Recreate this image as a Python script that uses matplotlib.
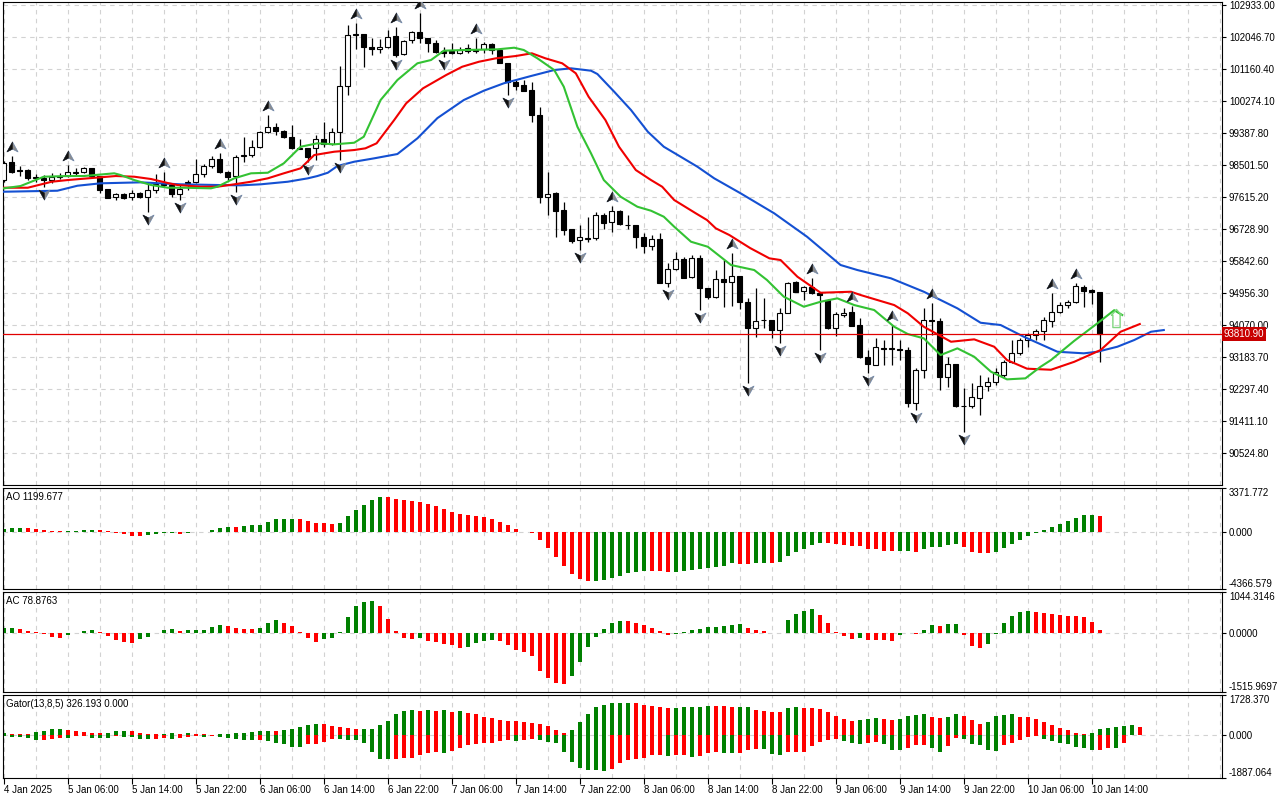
import numpy as np
import matplotlib.pyplot as plt
import matplotlib.transforms as mtransforms
from matplotlib.path import Path
from matplotlib.ticker import MultipleLocator

plt.rcParams['font.family'] = ['Liberation Sans', 'DejaVu Sans']
plt.rcParams['font.size'] = 7

# ---- candles (H1, first bar = 4 Jan 22:00) ----
opens = [98090, 98580, 98360, 98360, 98170, 98130, 98090, 98180, 98200, 98290,
         98300, 98410, 98200, 97840, 97610, 97700, 97610, 97730, 97620, 97810,
         98010, 97940, 97690, 97990, 98040, 98250, 98470, 98660, 98320, 98200,
         98740, 98780, 98990, 99410, 99550, 99450, 99270, 98950, 98960, 98960,
         99210, 99080, 99420, 100690, 102100, 102120, 101780, 101710, 101760, 102070,
         101570, 101960, 102180, 102010, 101870, 101660, 101660, 101600, 101670, 101660,
         101710, 101840, 101690, 101340, 100810, 100720, 100580, 99890, 97610, 97730,
         97260, 96720, 96420, 96460, 96470, 97120, 96930, 97240, 96850, 96840,
         96500, 96260, 96440, 95240, 95610, 95890, 95390, 95920, 95090, 94840,
         95340, 95270, 95440, 94710, 93980, 94200, 94210, 93930, 94410, 95270,
         95010, 95130, 94950, 94760, 93980, 94360, 94420, 94070, 93180, 92960,
         93440, 93410, 93400, 93380, 91920, 92820, 94200, 94190, 92640, 92990,
         91820, 91830, 92040, 92390, 92500, 92680, 93050, 93300, 93650, 93790,
         93910, 94190, 94440, 94620, 94720, 95130, 95040, 94980]
highs = [98600, 98750, 98480, 98380, 98250, 98220, 98270, 98290, 98500, 98430,
         98440, 98430, 98210, 97850, 97730, 97730, 97810, 97760, 98040, 98250,
         98320, 97960, 97950, 98090, 98660, 98520, 98750, 98830, 98330, 98780,
         99290, 99190, 99450, 99890, 99670, 99470, 99610, 99210, 98980, 99330,
         99680, 99520, 101250, 102380, 102430, 102140, 102010, 101980, 102250, 102310,
         101960, 102210, 102700, 102030, 101960, 101780, 101870, 101780, 101850, 102010,
         101920, 101870, 101700, 101340, 100860, 100860, 100810, 100120, 98320, 97750,
         97490, 96730, 96840, 97070, 97210, 97160, 97370, 97250, 97120, 96850,
         96610, 96560, 96610, 95780, 96100, 95950, 96000, 96010, 95100, 95590,
         95870, 96060, 95440, 94810, 95090, 94810, 94220, 94530, 95270, 95280,
         95150, 95360, 94990, 94800, 94440, 94530, 94600, 94250, 93380, 93700,
         93650, 94070, 93650, 93470, 92870, 94530, 94670, 94250, 93190, 93000,
         92320, 92450, 92680, 92640, 92890, 93100, 93650, 93700, 93840, 93950,
         94300, 94950, 94720, 94760, 95220, 95180, 95060, 94990]
lows = [98030, 98270, 98200, 98090, 98040, 97900, 98010, 98110, 98180, 98220,
        98280, 98190, 97720, 97580, 97530, 97560, 97530, 97600, 97210, 97730,
        97900, 97620, 97530, 97810, 97990, 98180, 98410, 98270, 98090, 97760,
        98590, 98710, 98960, 99380, 99330, 99250, 98950, 98940, 98590, 98650,
        99010, 99050, 98640, 100440, 101710, 101210, 101560, 101600, 101740, 101500,
        101550, 101870, 101870, 101640, 101610, 101500, 101580, 101570, 101600, 101600,
        101600, 101580, 101320, 100440, 100580, 100540, 99700, 97460, 97120, 96520,
        96560, 96330, 96150, 96380, 96420, 96720, 96650, 96840, 96720, 96190,
        96060, 96150, 95220, 95130, 95590, 95360, 95370, 94490, 94800, 94820,
        94580, 94600, 94500, 92450, 93750, 93980, 93700, 93560, 94400, 94980,
        94760, 94930, 93380, 93960, 93770, 94300, 94040, 93150, 92730, 92960,
        92970, 92960, 93100, 91810, 91720, 92590, 93790, 92270, 92360, 91810,
        91110, 91760, 91580, 92250, 92410, 92640, 93010, 93240, 93450, 93650,
        93650, 94020, 94390, 94530, 94690, 94560, 94650, 93050]
closes = [98560, 98320, 98330, 98150, 98150, 98090, 98180, 98200, 98300, 98300,
          98410, 98200, 97810, 97600, 97700, 97580, 97720, 97620, 97810, 97980,
          97950, 97690, 97850, 98020, 98250, 98470, 98660, 98320, 98180, 98730,
          98770, 98990, 99410, 99550, 99450, 99270, 98960, 98970, 98730, 99210,
          99080, 99420, 100690, 102100, 102130, 101780, 101710, 101760, 102060, 101550,
          101940, 102180, 102010, 101870, 101620, 101600, 101600, 101690, 101730, 101700,
          101840, 101690, 101340, 100810, 100690, 100560, 99890, 97620, 97700, 97240,
          96700, 96410, 96500, 96480, 97120, 96900, 97240, 96870, 96830, 96500,
          96260, 96440, 95240, 95610, 95890, 95380, 95920, 95090, 94840, 95340,
          95270, 95440, 94710, 93980, 94190, 94220, 93930, 94410, 95240, 94990,
          95110, 94950, 94910, 93980, 94370, 94410, 94050, 93180, 92990, 93450,
          93410, 93430, 93380, 91920, 92820, 94210, 94180, 92640, 92990, 91830,
          91830, 92070, 92390, 92500, 92780, 93050, 93300, 93650, 93790, 93910,
          94210, 94440, 94620, 94720, 95150, 95020, 94990, 93810.90]

fractal_up_bars = [1, 8, 20, 27, 33, 44, 49, 52, 59, 76, 91, 101, 106, 111, 116, 131, 134]
fractal_down_bars = [5, 18, 22, 29, 38, 42, 49, 55, 63, 72, 83, 87, 93, 97, 102, 108, 114, 120]

# ---- alligator lines (read at bar positions, shifted lines run past last bar) ----
jaw_x = [0, 6.7, 9.2, 12.1, 17.1, 22.1, 26.7, 29.6, 32.1, 35.5, 38, 39.2, 40.5, 41.7, 43.8,
         46.3, 49.2, 51.7, 54.2, 57.5, 60, 62.5, 65.9, 68.8, 70.9, 73.4, 74.2, 76.3, 78.4,
         80.5, 82.5, 84.6, 86.7, 88.8, 92.1, 96.3, 100.4, 104.6, 106.7, 110.9, 115, 119.2,
         122.1, 124.6, 127.5, 131.7, 135, 136.7, 139.2, 141.3, 143.4, 145]
jaw_y = [97761, 97789, 97927, 97994, 98021, 97966, 97947, 97938, 97966, 98038, 98132, 98196,
         98287, 98473, 98592, 98686, 98805, 99240, 99800, 100301, 100559, 100764, 100966,
         101132, 101179, 101113, 101021, 100531, 100024, 99423, 99007, 98731, 98454, 98132,
         97717, 97163, 96515, 95731, 95592, 95362, 94991, 94531, 94132, 94069, 93745, 93329,
         93285, 93329, 93468, 93653, 93883, 93930]
teeth_x = [0, 3, 6, 8, 14, 16.3, 18.4, 20.5, 21.7, 24.6, 26.7, 28.8, 30.9, 33, 35, 37.1, 38.8,
           41.3, 43.8, 45.2, 46.6, 48.8, 50.3, 52.4, 55.3, 57.3, 59.4, 61.5, 64, 66, 67.7,
           69.8, 71.5, 73.1, 75.2, 76.9, 79, 80.9, 82.3, 83.8, 86.5, 87.9, 89, 90.7, 93.3,
           95.7, 97.1, 99.2, 102.1, 105.9, 107.1, 111.3, 113, 115, 118.4, 121.3, 123.8, 125.4,
           127.9, 130.9, 133.8, 137.1, 139.6, 142]
teeth_y = [97872, 97872, 98038, 98085, 98196, 98177, 98113, 98002, 97947, 97900, 97900, 97966,
           98038, 98132, 98271, 98409, 98777, 98869, 98916, 98963, 99102, 99747, 100210,
           100625, 100994, 101223, 101362, 101456, 101520, 101595, 101456, 101318, 101041,
           100392, 99747, 99007, 98362, 98085, 97899, 97531, 97163, 96977, 96747, 96561,
           96200, 95916, 95869, 95407, 94963, 94991, 94900, 94622, 94393, 94021, 93606,
           93672, 93468, 93099, 92860, 92830, 93050, 93376, 93883, 94096]
lips_x = [0, 2.1, 5, 8, 10, 13.8, 14.6, 16.3, 18.4, 20.5, 22.5, 25.9, 26.7, 28.8, 30.9, 33,
          35, 37.1, 39.2, 41.3, 43.8, 45, 47.1, 49.2, 51.7, 53.4, 55, 57.5, 61.7, 63.8, 65,
          66.7, 68.8, 70, 71.7, 73.4, 75, 77.1, 79.2, 80.9, 82.5, 83.8, 85.9, 88, 90.9, 93.8,
          95.4, 97.5, 100, 102.1, 104.2, 106.3, 108.8, 111.3, 113, 115, 117.1, 119.2, 121.3,
          123.4, 125.4, 127.7, 129.6, 130.9, 133.8, 136.7, 138.8, 139.8]
lips_y = [97855, 97919, 98177, 98196, 98196, 98271, 98224, 98085, 97947, 97872, 97872, 97855,
          97900, 98132, 98271, 98287, 98548, 99007, 99102, 99074, 99118, 99285, 100301,
          100855, 101318, 101409, 101667, 101686, 101705, 101750, 101686, 101456, 101132,
          100669, 99561, 98825, 98085, 97623, 97345, 97235, 97069, 96792, 96376, 96237,
          95731, 95592, 95315, 94853, 94576, 94714, 94808, 94622, 94484, 94021, 93819, 93700,
          93237, 93423, 93190, 92775, 92564, 92592, 92913, 93099, 93630, 94116, 94480, 94346]

signal_bar = 139
signal_price = 94264

# ---- oscillators ----
ao = [250, 290, 300, 280, 230, 150, 110, 60, 80, 110,
      140, 160, 150, 60, -40, -130, -280, -300, -260, -170,
      -110, -80, -120, -60, -20, 20, 127, 279, 381, 356,
      432, 508, 559, 762, 965, 1016, 1020, 1010, 813, 660,
      655, 650, 711, 1194, 1702, 2032, 2464, 2718, 2692, 2540,
      2464, 2413, 2337, 2159, 1956, 1778, 1524, 1397, 1270, 1219,
      1143, 1016, 762, 508, 203, -20, -76, -635, -1219, -1905,
      -2616, -3226, -3607, -3734, -3720, -3683, -3556, -3353, -3175, -3099,
      -2997, -3000, -3023, -3048, -3040, -2972, -2921, -2870, -2743, -2692,
      -2591, -2400, -2440, -2450, -2360, -2350, -2370, -2330, -1854, -1524,
      -1270, -1016, -838, -850, -890, -1016, -1092, -1100, -1270, -1280,
      -1448, -1460, -1440, -1420, -1524, -1270, -1168, -1160, -1016, -889,
      -1143, -1524, -1600, -1610, -1524, -1219, -914, -610, -305, -50,
      127, 356, 584, 813, 1067, 1270, 1280, 1199.677]
ac = [110, 115, 93, 40, 8, -34, -119, -125, -59, -8,
      42, 59, 8, -76, -187, -229, -255, -170, -102, 5,
      68, 93, 51, 59, 62, 76, 144, 195, 185, 110,
      105, 93, 119, 246, 323, 246, 170, 8, -144, -229,
      -161, -144, 17, 399, 679, 781, 815, 679, 348, 42,
      -127, -170, -144, -204, -229, -289, -314, -382, -357, -272,
      -212, -187, -212, -314, -441, -484, -586, -968, -1163, -1274,
      -1307, -1095, -739, -357, -102, 93, 255, 314, 297, 250,
      195, 110, 51, -68, -25, 8, 59, 93, 144, 150,
      178, 195, 229, 110, 59, 42, -17, -8, 331, 484,
      560, 603, 450, 255, 17, -76, -153, -127, -178, -190,
      -195, -200, -68, -17, -34, 59, 195, 170, 221, 225,
      -68, -331, -382, -280, -34, 246, 424, 535, 552, 545,
      509, 484, 450, 424, 420, 399, 272, 78.8763]
gator_up = [86, 50, 30, 25, 115, 158, 230, 235, 187, 180,
            129, 90, 86, 90, 144, 150, 140, 60, 45, 40,
            43, 72, 43, 57, 29, 14, 5, 29, 35, 72,
            86, 115, 158, 165, 158, 215, 258, 330, 431, 450,
            445, 387, 344, 300, 258, 260, 265, 431, 617, 904,
            1019, 1076, 1048, 1076, 1048, 1060, 1005, 1015, 933, 904,
            789, 718, 660, 617, 588, 545, 517, 474, 373, 187,
            86, 215, 574, 904, 1191, 1292, 1378, 1385, 1390, 1363,
            1306, 1234, 1191, 1148, 1150, 1191, 1195, 1200, 1263, 1234,
            1230, 1191, 1195, 1200, 1091, 1048, 1005, 976, 1162, 1220,
            1162, 1148, 1140, 1005, 832, 689, 617, 646, 689, 732,
            689, 646, 689, 804, 875, 880, 789, 732, 789, 904,
            832, 660, 474, 574, 832, 875, 880, 789, 761, 689,
            545, 402, 301, 187, 72, 43, 72, 258, 301, 330,
            373, 430, 326.193]
gator_dn = [-57, -100, -110, -144, -244, -215, -201, -144, -150, -72,
            -60, -129, -144, -150, -72, -80, -100, -187, -190, -187,
            -129, -172, -129, -100, -57, -86, -43, -100, -144, -187,
            -215, -220, -215, -273, -359, -416, -531, -540, -416, -387,
            -330, -201, -205, -215, -244, -344, -746, -1076, -1080, -1062,
            -1033, -1005, -890, -818, -746, -789, -703, -560, -459, -416,
            -359, -355, -273, -244, -273, -244, -172, -244, -316, -344,
            -746, -1177, -1435, -1535, -1540, -1579, -1507, -1220, -1105, -1076,
            -1005, -890, -885, -918, -890, -880, -961, -918, -818, -746,
            -789, -818, -789, -674, -603, -631, -861, -865, -746, -740,
            -735, -502, -316, -244, -172, -273, -344, -387, -344, -316,
            -416, -646, -674, -560, -459, -455, -560, -746, -502, -144,
            -201, -416, -459, -646, -718, -459, -359, -244, -100, -72,
            -172, -273, -359, -387, -531, -560, -674, -646, -560, -565,
            -344]

price_ticks = [102933.00, 102046.70, 101160.40, 100274.10, 99387.80, 98501.50, 97615.20,
               96728.90, 95842.60, 94956.30, 94070.00, 93183.70, 92297.40, 91411.10, 90524.80]
price_range = (89638, 103016)
ao_range = (-4366.579, 3371.772)
ac_range = (-1515.9697, 1044.3146)
gator_range = (-1887.064, 1728.370)
time_labels = ["4 Jan 2025", "5 Jan 06:00", "5 Jan 14:00", "5 Jan 22:00", "6 Jan 06:00",
               "6 Jan 14:00", "6 Jan 22:00", "7 Jan 06:00", "7 Jan 14:00", "7 Jan 22:00",
               "8 Jan 06:00", "8 Jan 14:00", "8 Jan 22:00", "9 Jan 06:00", "9 Jan 14:00",
               "9 Jan 22:00", "10 Jan 06:00", "10 Jan 14:00"]

GREEN = '#008000'
RED = '#ff0000'
GRID = '#d2d2d2'
W, H = 1280, 800
BAR_PX = 8

fig = plt.figure(figsize=(W / 100, H / 100), dpi=100)


def panel(top, bottom, left=3, right=1222):
    a = fig.add_axes([left / W, 1 - bottom / H, (right - left) / W, (bottom - top) / H])
    a.set_xlim(-0.1, -0.1 + (right - left) / BAR_PX)
    a.xaxis.set_major_locator(MultipleLocator(8))
    a.xaxis.set_minor_locator(MultipleLocator(4))
    a.grid(True, axis='x', which='both', color=GRID, linestyle=(0, (4, 4)), linewidth=0.8)
    a.tick_params(axis='x', which='both', length=0, labelbottom=False)
    a.yaxis.tick_right()
    a.tick_params(axis='y', direction='out', length=3, width=0.8, pad=2, labelsize=7)
    a.set_axisbelow(True)
    for s in a.spines.values():
        s.set_linewidth(0.8)
    return a


ax = panel(2, 485)
ax_ao = panel(488, 589)
ax_ac = panel(592, 692)
ax_gt = panel(695, 778)

# ---- main price chart ----
x = np.arange(len(opens))
o, h, l, c = map(np.array, (opens, highs, lows, closes))
ax.vlines(x, l, h, color='black', linewidth=0.9, zorder=2)
up = c >= o
ax.bar(x, np.abs(c - o), bottom=np.minimum(o, c), width=0.6,
       color=np.where(up, 'white', 'black'), edgecolor='black', linewidth=0.8, zorder=3)

ax.plot(jaw_x, jaw_y, color='#1450d2', linewidth=1.5, zorder=4)
ax.plot(teeth_x, teeth_y, color='#f00000', linewidth=1.5, zorder=4)
ax.plot(lips_x, lips_y, color='#33c233', linewidth=1.5, zorder=4)

# fractal arrows: grey arrowhead with a black left half
C = [Path.MOVETO, Path.LINETO, Path.LINETO, Path.LINETO, Path.CLOSEPOLY]
up_full = Path([(0, 1), (1, -0.8), (0, -0.3), (-1, -0.8), (0, 1)], C)
up_half = Path([(0, 1), (0, -0.3), (-1, -0.8), (0, 1)], C[:3] + [Path.CLOSEPOLY])
dn_full = Path([(0, -1), (1, 0.8), (0, 0.3), (-1, 0.8), (0, -1)], C)
dn_half = Path([(0, -1), (0, 0.3), (-1, 0.8), (0, -1)], C[:3] + [Path.CLOSEPOLY])
above = mtransforms.offset_copy(ax.transData, fig=fig, y=9, units='dots')
below = mtransforms.offset_copy(ax.transData, fig=fig, y=-7, units='dots')
for bars, ys, tr, full, half in ((fractal_up_bars, h[fractal_up_bars], above, up_full, up_half),
                                 (fractal_down_bars, l[fractal_down_bars], below, dn_full, dn_half)):
    ax.plot(bars, ys, linestyle='none', marker=full, ms=8, mfc='#8c8c8c', mec='#6f86a8',
            mew=0.5, transform=tr, zorder=5)
    ax.plot(bars, ys, linestyle='none', marker=half, ms=8, mfc='#111111', mec='#111111',
            mew=0.3, transform=tr, zorder=6)

hollow_arrow = Path([(0, 1), (0.55, 0.35), (0.4, 0.35), (0.4, -1), (-0.4, -1),
                     (-0.4, 0.35), (-0.55, 0.35), (0, 1)],
                    [Path.MOVETO] + [Path.LINETO] * 6 + [Path.CLOSEPOLY])
ax.plot([signal_bar], [signal_price], linestyle='none', marker=hollow_arrow, ms=13,
        mfc='none', mec='#7fd67f', mew=1.0, zorder=5)

last_price = closes[-1]
ax.axhline(last_price, color='#e00000', linewidth=0.9, zorder=4)
ax.set_ylim(*price_range)
ax.set_yticks(price_ticks, labels=[f"{p:.2f}" for p in price_ticks])
ax.grid(True, axis='y', color=GRID, linestyle=(0, (4, 4)), linewidth=0.8)
ax.text(1.0015, last_price, f"{last_price:.2f}", color='white', fontsize=7, va='center',
        ha='left', transform=mtransforms.blended_transform_factory(ax.transAxes, ax.transData),
        bbox=dict(boxstyle='square,pad=0.2', fc='#c80000', ec='none'), clip_on=False)


def rising_colors(vals, by_magnitude=False):
    cols = []
    prev = None
    for v in vals:
        cur = abs(v) if by_magnitude else v
        cols.append(GREEN if prev is None or cur > prev else RED)
        prev = cur
    return cols


def osc_axis(a, rng, fmt, title):
    a.set_ylim(*rng)
    a.axhline(0, color=GRID, linestyle=(0, (4, 4)), linewidth=0.8, zorder=0)
    ticks = [rng[0], 0, rng[1]]
    a.set_yticks(ticks, labels=[fmt.format(t) for t in ticks])
    labs = a.get_yticklabels()
    labs[0].set_va('bottom')
    labs[2].set_va('top')
    a.annotate(title, xy=(0, 1), xycoords='axes fraction', xytext=(3, -9),
               textcoords='offset pixels', va='center', ha='left', fontsize=7)


ax_ao.bar(np.arange(len(ao)), ao, width=0.5, color=rising_colors(ao))
osc_axis(ax_ao, ao_range, "{:.3f}", f"AO {ao[-1]:.3f}")

ax_ac.bar(np.arange(len(ac)), ac, width=0.5, color=rising_colors(ac))
osc_axis(ax_ac, ac_range, "{:.4f}", f"AC {ac[-1]:.4f}")

ax_gt.bar(np.arange(len(gator_up)), gator_up, width=0.5, color=rising_colors(gator_up))
ax_gt.bar(np.arange(len(gator_dn)), gator_dn, width=0.5,
          color=rising_colors(gator_dn, by_magnitude=True))
osc_axis(ax_gt, gator_range, "{:.3f}", f"Gator(13,8,5) {gator_up[-1]:.3f} 0.000")

tick_bars = np.arange(len(time_labels)) * 8
ax_gt.set_xticks(tick_bars, labels=time_labels)
ax_gt.tick_params(axis='x', which='major', length=4, width=0.8, direction='out',
                  labelbottom=True, pad=1, labelsize=7)
for t in ax_gt.get_xticklabels():
    t.set_ha('left')

fig.savefig('out.png', dpi=100, facecolor='white')
